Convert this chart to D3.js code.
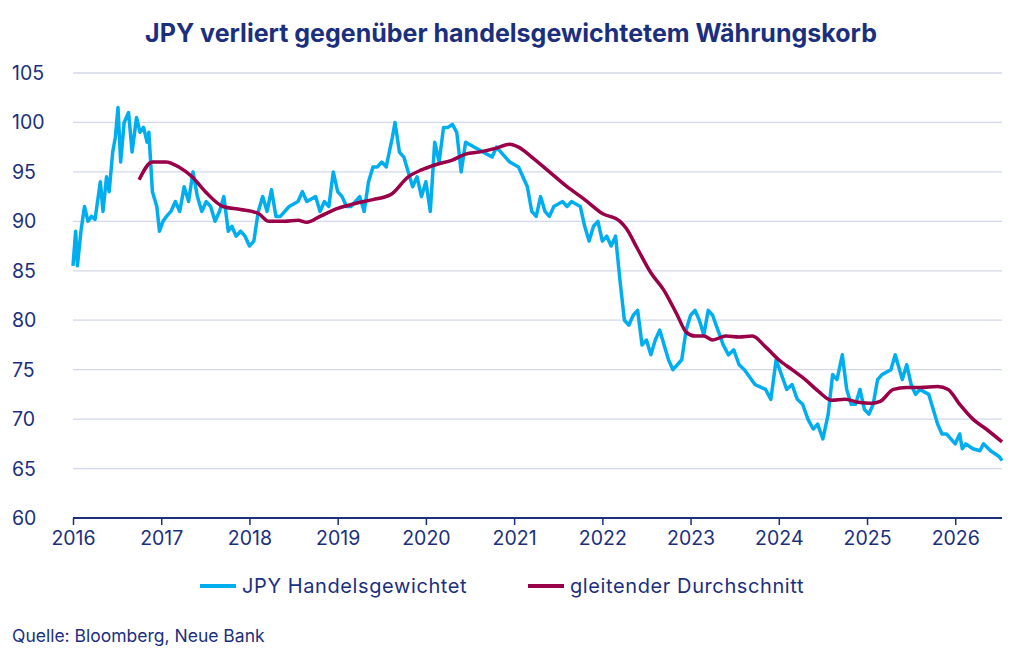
<!DOCTYPE html><html><head><meta charset="utf-8"><script src="https://cdn.jsdelivr.net/npm/d3@7"></script>
<style>body{margin:0;background:#fff}text{font-family:Inter,"Open Sans",sans-serif}</style></head><body><svg width="1024" height="651"></svg>
<script>
const title="JPY verliert gegenüber handelsgewichtetem Währungskorb";
const yTicks=[60,65,70,75,80,85,90,95,100,105];
const xTicks=[2016,2017,2018,2019,2020,2021,2022,2023,2024,2025,2026];
const jpyT=[2016.0,2016.03,2016.05,2016.09,2016.13,2016.17,2016.21,2016.25,2016.31,2016.34,2016.38,2016.41,2016.45,2016.48,2016.51,2016.54,2016.58,2016.63,2016.67,2016.72,2016.76,2016.8,2016.84,2016.86,2016.9,2016.95,2016.98,2017.02,2017.06,2017.11,2017.16,2017.21,2017.26,2017.31,2017.36,2017.41,2017.46,2017.51,2017.56,2017.61,2017.66,2017.71,2017.76,2017.8,2017.85,2017.9,2017.95,2018.0,2018.05,2018.1,2018.15,2018.2,2018.25,2018.3,2018.35,2018.45,2018.55,2018.6,2018.65,2018.75,2018.8,2018.85,2018.9,2018.95,2019.0,2019.05,2019.1,2019.15,2019.2,2019.25,2019.3,2019.35,2019.4,2019.45,2019.5,2019.55,2019.62,2019.65,2019.7,2019.75,2019.8,2019.85,2019.9,2019.95,2020.0,2020.05,2020.1,2020.15,2020.2,2020.25,2020.3,2020.35,2020.4,2020.45,2020.55,2020.65,2020.75,2020.8,2020.85,2020.95,2021.05,2021.15,2021.2,2021.25,2021.3,2021.35,2021.4,2021.45,2021.55,2021.6,2021.65,2021.75,2021.8,2021.85,2021.9,2021.95,2022.0,2022.05,2022.1,2022.15,2022.2,2022.25,2022.3,2022.35,2022.4,2022.45,2022.5,2022.55,2022.6,2022.65,2022.7,2022.75,2022.8,2022.85,2022.9,2022.95,2023.0,2023.05,2023.1,2023.15,2023.2,2023.25,2023.31,2023.37,2023.43,2023.49,2023.55,2023.61,2023.73,2023.85,2023.91,2023.97,2024.03,2024.09,2024.15,2024.21,2024.27,2024.33,2024.39,2024.44,2024.5,2024.56,2024.61,2024.66,2024.72,2024.77,2024.82,2024.87,2024.92,2024.97,2025.02,2025.07,2025.12,2025.17,2025.27,2025.32,2025.4,2025.45,2025.5,2025.55,2025.6,2025.7,2025.75,2025.8,2025.85,2025.9,2025.95,2026.0,2026.05,2026.08,2026.12,2026.2,2026.28,2026.32,2026.4,2026.45,2026.5,2026.53];
const jpyV=[85.5,89,85.5,89,91.5,90,90.5,90.2,94,91,94.5,93,97,98.5,101.5,96,100,101,97,100.5,99,99.5,98,99,93,91.5,89,90,90.5,91,92,91,93.5,92,95,92.5,91,92,91.5,90,91,92.5,89,89.5,88.5,89,88.5,87.5,88,91,92.5,91,93.2,90.5,90.5,91.5,92,93,92,92.5,91,92,91.5,95,93,92.5,91.5,91.5,92,92.5,91,94,95.5,95.5,96,95.5,98.5,100,97,96.5,95,93.5,94.5,92.5,94,91,98,96,99.5,99.5,99.8,99,95,98,97.5,97,96.5,97.5,97,96,95.5,93.5,91,90.5,92.5,91,90.5,91.5,92,91.5,92,91.5,89.5,88,89.5,90,88,88.5,87.5,88.5,84,80,79.5,80.5,81,77.5,78,76.5,78,79,77.5,76,75,75.5,76,79,80.5,81,80,78.5,81,80.5,79,77.5,76.5,77,75.5,75,73.5,73,72,76,74.5,73,73.5,72,71.5,70,69,69.5,68,70.5,74.5,74,76.5,73,71.5,71.5,73,71,70.5,71.5,74,74.5,75,76.5,74,75.5,73.5,72.5,73,72.5,71,69.5,68.5,68.5,68,67.5,68.5,67,67.5,67,66.8,67.5,66.8,66.5,66.2,65.8];
const maT=[2016.75,2016.9,2017.05,2017.2,2017.35,2017.5,2017.7,2017.9,2018.1,2018.22,2018.4,2018.55,2018.65,2018.8,2019.0,2019.2,2019.4,2019.6,2019.8,2019.95,2020.1,2020.3,2020.45,2020.6,2020.8,2020.95,2021.05,2021.2,2021.4,2021.6,2021.8,2022.0,2022.2,2022.27,2022.4,2022.55,2022.7,2022.85,2022.95,2023.05,2023.15,2023.25,2023.4,2023.55,2023.7,2023.85,2024.0,2024.15,2024.3,2024.45,2024.6,2024.75,2024.9,2025.05,2025.15,2025.3,2025.45,2025.6,2025.8,2025.92,2026.05,2026.2,2026.35,2026.53];
const maV=[94.2,96,96,95.5,94.5,93,91.5,91.2,90.8,90,90,90.1,89.9,90.5,91.3,91.8,92.2,92.7,94.5,95.2,95.7,96.2,96.8,97,97.4,97.8,97.5,96.5,95,93.5,92.2,90.8,90,89.3,87.2,84.8,83,80.5,78.8,78.4,78.4,78,78.4,78.3,78.4,77.3,76,75,74,72.8,71.9,72,71.7,71.6,71.8,73,73.2,73.2,73.3,73,71.5,70,69,67.7];
const seriesNames=["JPY Handelsgewichtet","gleitender Durchschnitt"];
const source="Quelle: Bloomberg, Neue Bank";
const navy="#1b2f7e",blue="#00aeef",red="#990047";
const svg=d3.select("svg");
const x=d3.scaleLinear().domain([2016,2026.53]).range([73,1002]);
const y=d3.scaleLinear().domain([60,105]).range([518,73]);
svg.append("text").attr("x",511).attr("y",42).attr("text-anchor","middle").attr("font-size",25).attr("font-weight",700).attr("fill",navy).text(title);
svg.append("g").selectAll("line").data(yTicks.filter(d=>d>60)).join("line").attr("x1",73).attr("x2",1002).attr("y1",d=>y(d)).attr("y2",d=>y(d)).attr("stroke","#d3d8ea").attr("stroke-width",1.3);
svg.append("g").selectAll("text").data(yTicks).join("text").attr("x",12).attr("y",d=>y(d)+7).attr("font-size",19.5).attr("fill",navy).text(d=>d);
const ax=svg.append("g").attr("transform","translate(0,518)").call(d3.axisBottom(x).tickValues(xTicks).tickFormat(d3.format("d")).tickSize(7).tickPadding(6));
ax.select(".domain").attr("stroke",navy).attr("stroke-width",2).attr("d","M73,0H1002");
ax.selectAll("line").attr("stroke",navy).attr("stroke-width",1.5);
ax.selectAll("text").attr("font-size",19.5).attr("fill",navy).attr("font-family","Inter,sans-serif");
const line=d3.line().x(d=>x(d[0])).y(d=>y(d[1]));
svg.append("path").datum(jpyT.map((t,i)=>[t,jpyV[i]])).attr("d",line).attr("fill","none").attr("stroke",blue).attr("stroke-width",3.5).attr("stroke-linejoin","round");
svg.append("path").datum(maT.map((t,i)=>[t,maV[i]])).attr("d",line.curve(d3.curveMonotoneX)).attr("fill","none").attr("stroke",red).attr("stroke-width",3.5);
const lg=[[200,blue,seriesNames[0]],[528,red,seriesNames[1]]];
lg.forEach(([lx,c,t])=>{svg.append("line").attr("x1",lx).attr("x2",lx+36).attr("y1",586).attr("y2",586).attr("stroke",c).attr("stroke-width",4);
svg.append("text").attr("x",lx+42).attr("y",593).attr("font-size",20).attr("letter-spacing",0.6).attr("fill",navy).text(t);});
svg.append("text").attr("x",12).attr("y",642).attr("font-size",17.5).attr("fill",navy).text(source);
</script></body></html>
